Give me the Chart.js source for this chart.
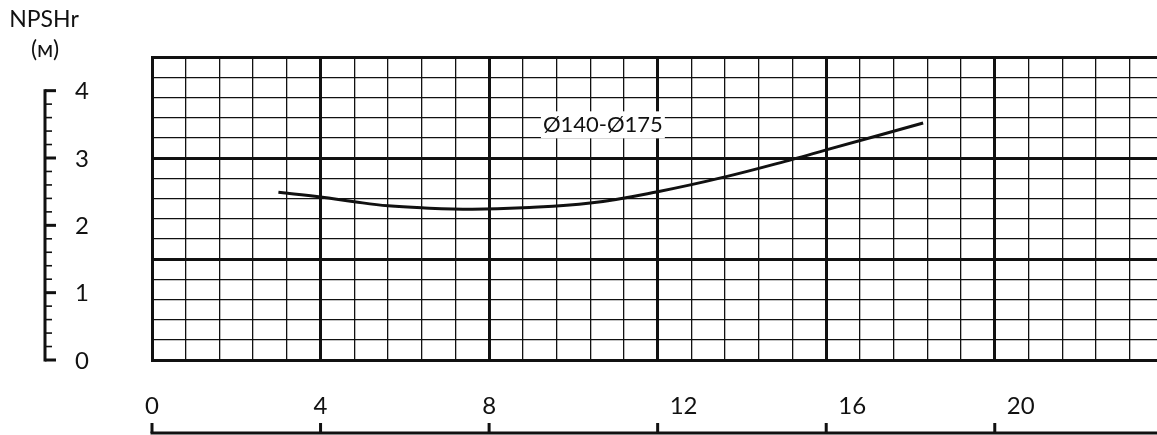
<!DOCTYPE html>
<html>
<head>
<meta charset="utf-8">
<script src="https://cdn.jsdelivr.net/npm/chart.js@4"></script>
<style>
  html, body { margin: 0; padding: 0; background: #fff; }
  #wrap { width: 1157px; height: 435px; position: relative; }
</style>
</head>
<body>
<div id="wrap"><canvas id="npshChart" width="1157" height="435"></canvas></div>
<script>
// 曲线数据 (流量 / NPSHr)
const flowQ = [3, 4, 4.8, 5.6, 6.4, 7.6, 8.8, 10.4, 12, 13.6, 15.2, 16, 18.3];
const npshr = [2.49, 2.42, 2.35, 2.29, 2.26, 2.24, 2.26, 2.33, 2.50, 2.72, 2.98, 3.12, 3.52];

// 坐标轴
const xTickLabels = ['0', '4', '8', '12', '16', '20'];
const xTickValues = [0, 4, 8, 12, 16, 20];
const yTickLabels = ['0', '1', '2', '3', '4'];
const yRulerStep = 0.2;
const curveLabel = 'Ø140-Ø175';
const curveLabelAt = { x: 10.7, y: 3.5 };

const FONT = 'Lato, "Noto Sans", sans-serif';
const INK = '#111';

const isMajor = (v, step) => Math.abs(v / step - Math.round(v / step)) < 1e-6;

// 左侧与底部的刻度尺, 以及曲线标签
const rulerPlugin = {
  id: 'rulers',
  afterDraw(chart) {
    const { ctx, scales: { x, y } } = chart;
    ctx.save();
    ctx.strokeStyle = INK;
    ctx.fillStyle = INK;
    ctx.font = '24px ' + FONT;

    // 左侧刻度尺
    const rx = 45;
    const yTop = y.getPixelForValue(yTickLabels.length - 1);
    const yBot = y.getPixelForValue(0);
    ctx.lineWidth = 3;
    ctx.beginPath();
    ctx.moveTo(rx, yBot + 1.5);
    ctx.lineTo(rx, yTop - 1.5);
    ctx.stroke();
    const nSteps = Math.round((yTickLabels.length - 1) / yRulerStep);
    for (let i = 0; i <= nSteps; i++) {
      const v = i * yRulerStep;
      const py = y.getPixelForValue(v);
      const major = isMajor(v, 1);
      ctx.lineWidth = major ? 3 : 1.6;
      ctx.beginPath();
      ctx.moveTo(rx, py);
      ctx.lineTo(rx + (major ? 11 : 7), py);
      ctx.stroke();
    }
    ctx.textAlign = 'center';
    ctx.textBaseline = 'middle';
    yTickLabels.forEach((t, i) => ctx.fillText(t, 82, y.getPixelForValue(i) + 1));

    // 单位
    ctx.font = '23px ' + FONT;
    ctx.fillText('NPSHr', 44, 20);
    ctx.fillText('(м)', 45, 50);

    // 底部刻度尺
    const by = 433;
    ctx.lineWidth = 3;
    ctx.beginPath();
    ctx.moveTo(x.getPixelForValue(0) - 1.5, by);
    ctx.lineTo(chart.width, by);
    ctx.stroke();
    ctx.font = '24px ' + FONT;
    xTickValues.forEach((v, i) => {
      const px = x.getPixelForValue(v);
      ctx.beginPath();
      ctx.moveTo(px, by);
      ctx.lineTo(px, by - 10);
      ctx.stroke();
      const two = xTickLabels[i].length > 1;
      ctx.textAlign = two ? 'left' : 'center';
      ctx.fillText(xTickLabels[i], two ? px + 12 : px, 406);
    });

    // 曲线标签 (白底)
    ctx.font = '22px ' + FONT;
    ctx.textAlign = 'center';
    const lx = x.getPixelForValue(curveLabelAt.x);
    const ly = y.getPixelForValue(curveLabelAt.y);
    const w = ctx.measureText(curveLabel).width;
    ctx.fillStyle = '#fff';
    ctx.fillRect(lx - w / 2 - 2, ly - 13, w + 4, 27);
    ctx.fillStyle = INK;
    ctx.fillText(curveLabel, lx, ly + 1);
    ctx.restore();
  }
};

function init() {
  const ctx = document.getElementById('npshChart').getContext('2d');
  new Chart(ctx, {
    type: 'line',
    data: {
      datasets: [{
        data: flowQ.map((q, i) => ({ x: q, y: npshr[i] })),
        borderColor: INK,
        borderWidth: 3,
        pointRadius: 0,
        tension: 0.4,
        fill: false,
      }]
    },
    options: {
      responsive: false,
      animation: false,
      layout: { padding: { left: 152, top: 57, right: 0, bottom: 75 } },
      plugins: { legend: { display: false }, tooltip: { enabled: false } },
      scales: {
        x: {
          type: 'linear',
          min: 0,
          max: 23.85,
          afterFit: s => { s.height = 0; },
          ticks: { display: false, stepSize: 0.8, includeBounds: false },
          grid: {
            drawTicks: false,
            color: INK,
            lineWidth: c => isMajor(c.tick.value, 4) ? 3 : 1.3,
          },
          border: { display: true, color: INK, width: 3 },
        },
        y: {
          type: 'linear',
          min: 0,
          max: 4.5,
          afterFit: s => { s.width = 0; },
          ticks: { display: false, stepSize: 0.3 },
          grid: {
            drawTicks: false,
            color: INK,
            lineWidth: c => isMajor(c.tick.value, 1.5) ? 3 : 1.3,
          },
          border: { display: true, color: INK, width: 3 },
        }
      }
    },
    plugins: [rulerPlugin]
  });
}

init();
</script>
</body>
</html>
